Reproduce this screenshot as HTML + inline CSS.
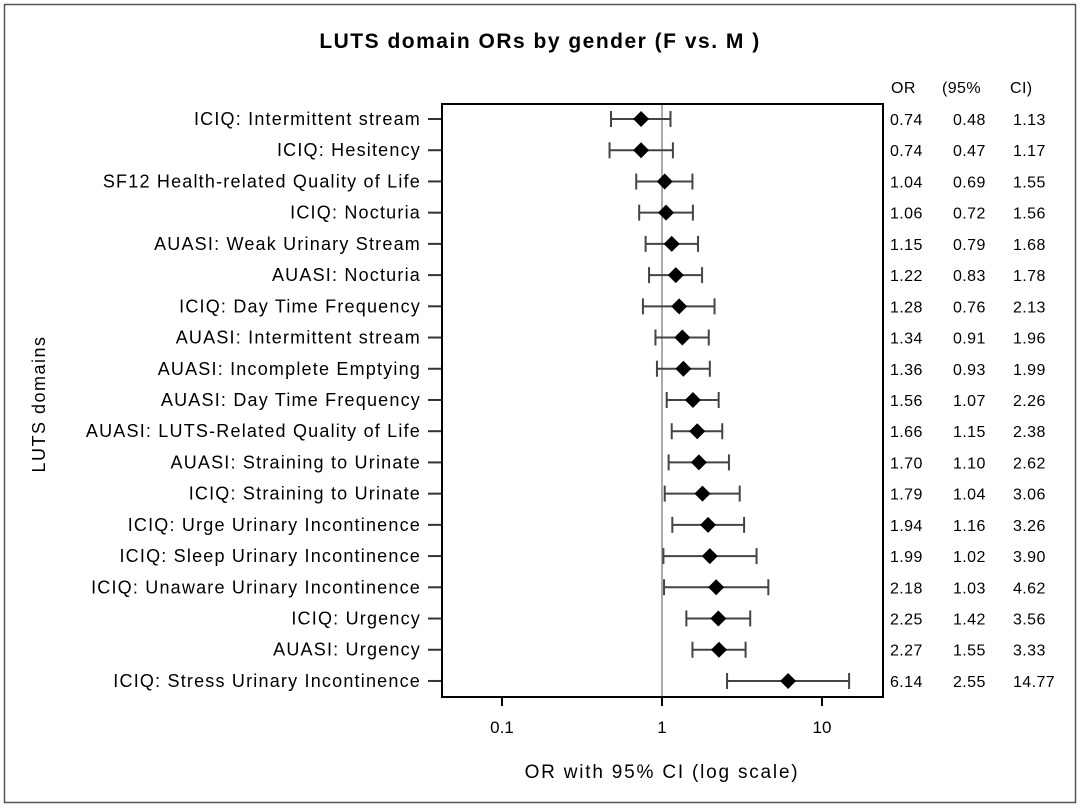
<!DOCTYPE html>
<html><head><meta charset="utf-8"><style>
html,body{margin:0;padding:0;background:#fff;}
svg{display:block;font-family:"Liberation Sans",Arial,sans-serif;}
</style></head><body>
<svg id="chart" width="1080" height="811" viewBox="0 0 1080 811">
<rect x="4.5" y="4.5" width="1071" height="798" fill="#fff" stroke="#555" stroke-width="1.5"/>
<text x="540" y="48" text-anchor="middle" font-size="21" font-weight="bold" letter-spacing="1.5">LUTS domain ORs by gender (F vs. M )</text>
<text transform="translate(45,404) rotate(-90)" text-anchor="middle" font-size="18" letter-spacing="1.5">LUTS domains</text>
<text x="662" y="778" text-anchor="middle" font-size="19" letter-spacing="1.8">OR with 95% CI (log scale)</text>
<text x="891" y="93" font-size="16" letter-spacing="0.4">OR</text>
<text x="942" y="93" font-size="16" letter-spacing="0.4">(95%</text>
<text x="1010" y="93" font-size="16" letter-spacing="0.4">CI)</text>
<g id="marks"></g>
<rect x="442" y="104" width="441" height="593" fill="none" stroke="#000" stroke-width="2"/>
</svg>
<script>
const labels=["ICIQ: Intermittent stream","ICIQ: Hesitency","SF12 Health-related Quality of Life","ICIQ: Nocturia","AUASI: Weak Urinary Stream","AUASI: Nocturia","ICIQ: Day Time Frequency","AUASI: Intermittent stream","AUASI: Incomplete Emptying","AUASI: Day Time Frequency","AUASI: LUTS-Related Quality of Life","AUASI: Straining to Urinate","ICIQ: Straining to Urinate","ICIQ: Urge Urinary Incontinence","ICIQ: Sleep Urinary Incontinence","ICIQ: Unaware Urinary Incontinence","ICIQ: Urgency","AUASI: Urgency","ICIQ: Stress Urinary Incontinence"];
const orValues=[0.74,0.74,1.04,1.06,1.15,1.22,1.28,1.34,1.36,1.56,1.66,1.70,1.79,1.94,1.99,2.18,2.25,2.27,6.14];
const ciLow=[0.48,0.47,0.69,0.72,0.79,0.83,0.76,0.91,0.93,1.07,1.15,1.10,1.04,1.16,1.02,1.03,1.42,1.55,2.55];
const ciHigh=[1.13,1.17,1.55,1.56,1.68,1.78,2.13,1.96,1.99,2.26,2.38,2.62,3.06,3.26,3.90,4.62,3.56,3.33,14.77];
const xTicks=[0.1,1,10];
const xTickLabels=["0.1","1","10"];
const NS="http://www.w3.org/2000/svg";
const g=document.getElementById('marks');
const x=v=>662+160*Math.log10(v);
const y=i=>119+i*31.22;
function mk(t,a,p){const e=document.createElementNS(NS,t);for(const k in a)e.setAttribute(k,a[k]);(p||g).appendChild(e);return e;}
let ref=mk('line',{x1:x(1),x2:x(1),y1:104,y2:697,stroke:'#aaa','stroke-width':2});


xTicks.forEach((t,k)=>{
 const l=mk('line',{x1:x(t),x2:x(t),y1:697,y2:706,stroke:'#000','stroke-width':2});
 
 
 const tx=mk('text',{x:x(t),y:733,'text-anchor':'middle','font-size':17});
 tx.textContent=xTickLabels[k];
 
 
});
labels.forEach((lab,i)=>{
 const yy=y(i);
 const t=mk('text',{x:421,y:yy+6,'text-anchor':'end','font-size':18,'letter-spacing':1.2});
 t.textContent=lab;
 
 
 const tk=mk('line',{x1:428,x2:442,y1:yy,y2:yy,stroke:'#333','stroke-width':2});
 
 
 const x1=x(ciLow[i]),x2=x(ciHigh[i]),xm=x(orValues[i]);
 const ci=mk('path',{d:`M${x1},${yy}H${x2}M${x1},${yy-8}V${yy+8}M${x2},${yy-8}V${yy+8}`,stroke:'#444','stroke-width':2,fill:'none'});
 
 
 const d=mk('polygon',{points:`${xm-8},${yy} ${xm},${yy-8} ${xm+8},${yy} ${xm},${yy+8}`,fill:'#000'});
 
 
 [[orValues[i],890],[ciLow[i],953],[ciHigh[i],1013]].forEach(([v,xx])=>{
  const s=mk('text',{x:xx,y:yy+6,'font-size':16,'letter-spacing':0.4});
  s.textContent=v.toFixed(2);
  
  
 });
});
</script>
</body></html>
